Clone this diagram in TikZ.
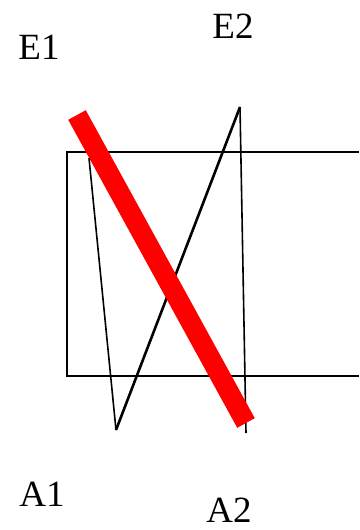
\documentclass[tikz,border=0pt]{standalone}
\usepackage{fontspec}
\setmainfont{Liberation Serif}
\usepackage{tikz}
\usetikzlibrary{calc}

\begin{document}
\begin{tikzpicture}[x=1pt,y=-1pt,
  lbl/.style={inner sep=0pt, font=\fontsize{37}{40}\selectfont}]
\useasboundingbox (0,0) rectangle (359,530);
\coordinate (TL) at (67,152);
\coordinate (TR) at (359,152);
\coordinate (BL) at (67,376);
\coordinate (BR) at (359,376);
\coordinate (P) at (89,158);
\coordinate (A) at (116,430);
\coordinate (E) at (240,107);
\coordinate (Q) at (246,433);
\coordinate (S) at (77,115);
\coordinate (T) at (246,423);
  \draw[line width=1.6pt, color=black] (TR) -- (TL) -- (BL) -- (BR);
  \draw[line width=1.6pt, color=black] (P) -- (A);
  \draw[line width=2.6pt, color=black] (A) -- (E);
  \draw[line width=1.6pt, color=black] (E) -- (Q);
  \draw[line width=20pt, color=red] (S) -- (T);

  \node[lbl] (e1) at (39,47) {E1};
  \node[lbl] (e2) at (233,26) {E2};
  \node[lbl] (a1) at (42,494) {A1};
  \node[lbl] (a2) at (229,510) {A2};
\end{tikzpicture}
\end{document}
